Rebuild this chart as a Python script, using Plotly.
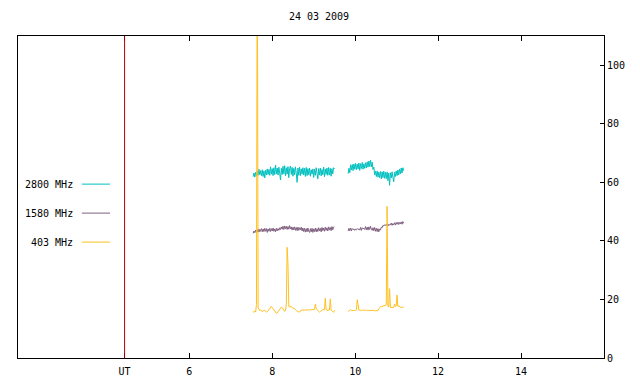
import numpy as np
import plotly.graph_objects as go

title_text = "24 03 2009"
series_names = ["2800 MHz", "1580 MHz", "403 MHz"]
series_colors = ["#00c0c0", "#7f5f7f", "#ffc020"]

# sample times (hours UT): two observing segments, 0.02 h sampling
seg1_start, seg1_n = 7.54, 99
seg2_start, seg2_n = 9.83, 68
step_h = 0.02

ut_marker = 4.44
x_tick_vals = [ut_marker, 6, 8, 10, 12, 14]
x_tick_text = ["UT", "6", "8", "10", "12", "14"]
y_tick_vals = [0, 20, 40, 60, 80, 100]

s2800_seg1 = [
    62.0, 63.2, 61.8, 63.4, 62.2, 63.9, 62.4, 64.5, 62.6, 64.0,
    62.3, 64.3, 62.0, 63.9, 61.5, 64.2, 62.5, 64.6, 62.7, 64.4,
    62.4, 65.3, 62.8, 64.7, 62.3, 65.0, 62.6, 65.9, 62.9, 64.9,
    62.5, 65.2, 63.0, 60.8, 64.8, 62.7, 65.5, 62.9, 65.7, 62.2,
    65.0, 62.8, 65.4, 61.6, 64.7, 65.6, 62.7, 65.1, 62.1, 64.8,
    62.6, 65.3, 63.1, 60.0, 64.9, 62.4, 65.2, 62.3, 64.6, 62.8,
    65.0, 62.5, 64.8, 62.0, 65.1, 62.3, 64.7, 62.6, 64.9, 62.1,
    64.3, 62.8, 64.6, 61.7, 64.5, 62.4, 65.0, 62.1, 61.2, 64.7,
    62.5, 64.9, 62.2, 64.4, 62.6, 65.2, 61.9, 64.6, 62.7, 64.9,
    62.4, 65.1, 62.5, 64.8, 62.1, 64.7, 62.9, 65.0, 64.6,
]
s2800_seg2 = [
    63.0, 64.8, 63.3, 66.0, 64.2, 66.1, 64.0, 66.3, 64.5, 66.5,
    64.3, 66.2, 64.6, 66.6, 64.1, 66.4, 64.7, 66.8, 64.5, 66.3,
    64.8, 66.7, 64.9, 67.0, 65.2, 67.3, 65.4, 67.6, 65.3, 66.9,
    64.4, 65.2, 62.6, 63.8, 62.0, 63.9, 61.8, 63.5, 61.6, 63.7,
    61.2, 63.6, 61.6, 63.8, 61.4, 63.5, 61.3, 63.6, 60.6, 63.2,
    59.0, 63.3, 61.5, 63.6, 61.7, 60.2, 63.4, 62.0, 63.9, 62.3,
    64.2, 62.5, 64.5, 62.9, 64.9, 63.2, 65.0, 64.0,
]

s1580_seg1 = [
    42.6, 43.4, 42.8, 43.7, 42.9, 43.8, 43.0, 44.1, 43.1, 43.9,
    44.2, 43.1, 44.1, 43.2, 44.3, 43.3, 44.2, 42.9, 44.1, 43.3,
    44.3, 43.2, 44.2, 43.4, 44.4, 43.3, 44.1, 43.1, 44.3, 43.4,
    44.2, 43.6, 44.5, 43.9, 44.8, 44.0, 45.0, 43.9, 45.1, 44.1,
    45.0, 43.9, 44.9, 44.0, 45.2, 44.1, 44.8, 43.7, 44.7, 43.8,
    44.8, 43.6, 44.6, 43.5, 44.7, 43.6, 44.5, 43.8, 44.7, 43.4,
    44.4, 43.2, 44.3, 43.0, 44.2, 43.1, 44.4, 43.3, 42.9, 44.2,
    43.1, 44.3, 42.9, 44.1, 43.2, 44.4, 43.1, 44.2, 43.2, 44.5,
    43.4, 44.3, 43.1, 44.6, 43.5, 44.4, 43.3, 44.7, 43.6, 44.5,
    43.4, 44.8, 43.7, 44.6, 43.5, 44.9, 43.8, 44.7, 44.8,
]
s1580_seg2 = [
    43.4, 44.3, 43.5, 44.4, 43.4, 44.2, 43.9, 44.1, 43.6, 44.0,
    43.8, 44.2, 43.9, 44.1, 43.7, 44.6, 43.6, 44.5, 44.1, 44.3,
    43.9, 44.9, 43.8, 44.7, 43.7, 44.8, 43.9, 45.0, 44.0, 43.6,
    44.5, 43.5, 44.6, 43.3, 44.3, 43.2, 44.2, 43.1, 44.1, 43.7,
    44.7, 44.5, 45.3, 45.1, 45.5, 45.3, 45.7, 45.1, 45.8, 45.2,
    45.6, 45.5, 46.1, 45.3, 45.9, 45.5, 46.2, 45.4, 46.3, 45.7,
    46.4, 45.6, 46.3, 45.8, 46.5, 45.7, 46.6, 46.0,
]

s403_seg1 = [
    15.9, 15.6, 16.0, 15.7, 18.3, 150.0, 17.2, 16.4, 16.2, 16.5,
    16.0, 15.8, 16.1, 16.4, 16.2, 15.9, 15.7, 15.8, 16.2, 16.6,
    17.0, 17.4, 17.6, 17.2, 16.8, 16.3, 15.9, 15.5, 15.3, 15.4,
    15.8, 16.3, 16.9, 17.3, 17.4, 17.2, 16.8, 16.2, 15.9, 16.2,
    18.5, 37.8, 32.2, 17.6, 17.3, 17.8, 17.5, 17.2, 16.9, 17.1,
    16.7, 16.4, 16.2, 16.0, 15.8, 15.7, 15.8, 15.9, 16.4, 16.5,
    16.3, 16.5, 16.4, 16.4, 16.3, 16.5, 16.4, 16.4, 16.5, 16.3,
    16.4, 16.6, 16.5, 16.5, 16.6, 18.4, 16.8, 16.5, 16.2, 15.9,
    15.7, 15.8, 16.2, 16.4, 16.5, 16.4, 16.5, 20.4, 16.5, 16.3,
    16.4, 16.5, 16.4, 20.2, 16.3, 16.2, 16.0, 15.6, 16.3,
]
s403_seg2 = [
    15.9, 16.1, 16.2, 16.5, 16.3, 16.2, 16.3, 16.2, 16.3, 16.2,
    16.4, 19.9, 18.3, 16.4, 16.3, 16.2, 16.3, 16.4, 16.3, 16.2,
    16.3, 16.3, 16.4, 16.2, 16.3, 16.3, 16.2, 16.3, 16.4, 16.3,
    16.2, 16.3, 16.2, 16.1, 16.2, 16.1, 16.2, 16.8, 17.3, 17.5,
    17.5, 17.6, 17.8, 17.7, 17.8, 17.9, 18.2, 51.8, 17.6, 17.4,
    23.7, 17.3, 17.2, 17.3, 17.2, 17.3, 18.4, 17.6, 17.8, 21.5,
    17.6, 17.8, 17.5, 17.3, 17.2, 17.4, 17.3, 17.3,
]

t1 = list(seg1_start + step_h * np.arange(seg1_n))
t2 = list(seg2_start + step_h * np.arange(seg2_n))
t_all = t1 + [None] + t2

series_values = [
    s2800_seg1 + [None] + s2800_seg2,
    s1580_seg1 + [None] + s1580_seg2,
    s403_seg1 + [None] + s403_seg2,
]

FONT = "DejaVu Sans Mono"
fig = go.Figure()
for name, vals, col in zip(series_names, series_values, series_colors):
    fig.add_trace(go.Scatter(x=t_all, y=vals, mode="lines", name=name,
                             line=dict(color=col, width=1), connectgaps=False,
                             showlegend=False))

# UT marker line
fig.add_shape(type="line", x0=ut_marker, x1=ut_marker, y0=0, y1=1,
              xref="x", yref="paper", line=dict(color="#b00000", width=1))

# gnuplot-style key: text then line sample
key_y = [0.54, 0.45, 0.36]
for name, col, ky in zip(series_names, series_colors, key_y):
    fig.add_annotation(x=0.097, y=ky, xref="paper", yref="paper", text=name,
                       showarrow=False, xanchor="right", yanchor="middle",
                       font=dict(family=FONT, size=10, color="black"))
    fig.add_shape(type="line", x0=0.109, x1=0.157, y0=ky, y1=ky,
                  xref="paper", yref="paper", line=dict(color=col, width=1))

fig.update_layout(
    width=640, height=384,
    margin=dict(l=10, r=44, t=28, b=34),
    paper_bgcolor="white", plot_bgcolor="white",
    font=dict(family=FONT, size=10, color="black"),
    title=dict(text=title_text, x=0.486, xanchor="center", y=0.977, yanchor="middle",
               font=dict(family=FONT, size=10, color="black")),
    showlegend=False,
)
fig.update_xaxes(range=[1.87, 16], tickvals=x_tick_vals, ticktext=x_tick_text,
                 ticks="inside", ticklen=5, tickcolor="black", showgrid=False,
                 zeroline=False, showline=True, linecolor="black", linewidth=1,
                 mirror="ticks", tickfont=dict(family=FONT, size=10),
                 ticklabelstandoff=4)
fig.update_yaxes(range=[0, 110], tickvals=y_tick_vals, side="right",
                 ticks="inside", ticklen=4, tickcolor="black", showgrid=False,
                 zeroline=False, showline=True, linecolor="black", linewidth=1,
                 mirror=True, tickfont=dict(family=FONT, size=10))

fig.write_html("out.html")
